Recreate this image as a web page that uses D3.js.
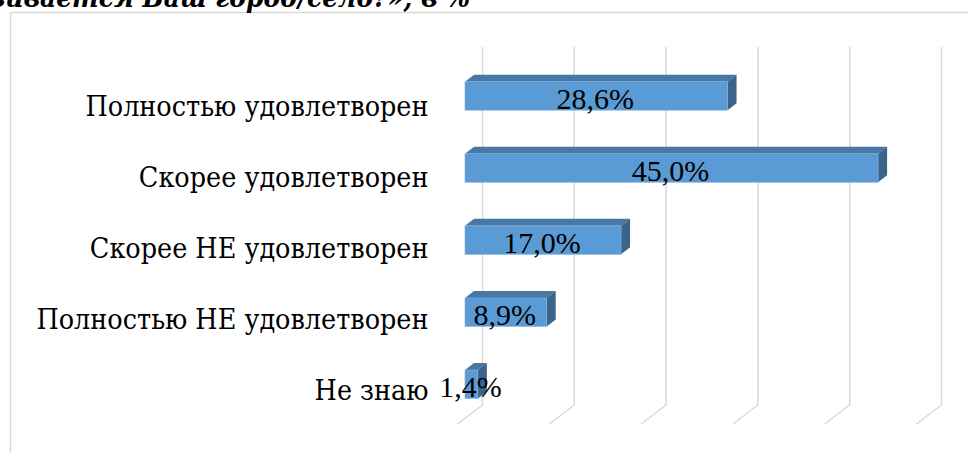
<!DOCTYPE html>
<html>
<head>
<meta charset="utf-8">
<script src="https://cdn.jsdelivr.net/npm/d3@7/dist/d3.min.js"></script>
<style>
  html, body { margin: 0; padding: 0; background: #fff; }
  svg { display: block; }
</style>
</head>
<body>
<svg id="chart" width="968" height="452"></svg>
<script>
const titleText = "«Насколько Вас удовлетворяет то, как развивается Ваш город/село?», в %";
const categories = ["Полностью удовлетворен", "Скорее удовлетворен", "Скорее НЕ удовлетворен", "Полностью НЕ удовлетворен", "Не знаю"];
const values = [28.6, 45.0, 17.0, 8.9, 1.4];
const valueLabels = ["28,6%", "45,0%", "17,0%", "8,9%", "1,4%"];
const gridTicks = [0, 10, 20, 30, 40, 50];

const svg = d3.select("#chart");
const serifCyr = "'DejaVu Serif Condensed', 'DejaVu Serif', serif";
const serifNum = "'Liberation Serif', 'Times New Roman', serif";

// frame
svg.append("rect")
  .attr("x", 10.5).attr("y", 12.5)
  .attr("width", 1000).attr("height", 500)
  .attr("fill", "none").attr("stroke", "#d9d9d9").attr("stroke-width", 1.5);

// scales
const x = d3.scaleLinear().domain([0, 50]).range([465, 924]);   // bar front plane
const backDx = 17.5;                                             // back wall offset
const depthDx = 25, depthDy = -19;                               // floor depth
const barDx = 9, barDy = -7;                                     // bar depth

const y = d3.scaleBand().domain(categories)
  .range([59.9, 420.3]).paddingInner(0.605).paddingOuter(0.3025);
const yLabel = d3.scalePoint().domain(categories).range([115.7, 400]);

const gridTop = 47, gridBottom = 405;

// gridlines (back wall + floor)
const grid = svg.append("g");
gridTicks.forEach(t => {
  const xb = x(t) + backDx;
  grid.append("path")
    .attr("d", `M${xb},${gridTop} L${xb},${gridBottom} L${xb - depthDx},${gridBottom - depthDy}`)
    .attr("fill", "none").attr("stroke", "#d9d9d9").attr("stroke-width", 1.5);
});

// bars
const bars = svg.append("g");
categories.forEach((c, i) => {
  const x0 = x(0), x1 = x(values[i]);
  const y0 = y(c), h = y.bandwidth();
  bars.append("path")
    .attr("d", `M${x0},${y0} L${x0 + barDx},${y0 + barDy} L${x1 + barDx},${y0 + barDy} L${x1},${y0} Z`)
    .attr("fill", "#4677a5");
  bars.append("path")
    .attr("d", `M${x1},${y0} L${x1 + barDx},${y0 + barDy} L${x1 + barDx},${y0 + h + barDy} L${x1},${y0 + h} Z`)
    .attr("fill", "#3a6489");
  bars.append("rect")
    .attr("x", x0).attr("y", y0)
    .attr("width", x1 - x0).attr("height", h)
    .attr("fill", "#5b9bd5")
    .attr("stroke", "#7fb0de").attr("stroke-width", 0.6);
  bars.append("text")
    .attr("x", (x0 + x1) / 2 - 1).attr("y", y0 + h - 1)
    .attr("text-anchor", "middle")
    .attr("font-family", serifNum).attr("font-size", 30)
    .attr("fill", "#000")
    .text(valueLabels[i]);
});

// category labels
const labels = svg.append("g").selectAll("text")
  .data(categories).join("text")
  .attr("x", 428.5).attr("y", d => yLabel(d))
  .attr("text-anchor", "end")
  .attr("font-family", serifCyr).attr("font-size", 27.5)
  .attr("fill", "#000")
  .text(d => d);

// scale widths so "Полностью удовлетворен" spans ~343px like the reference
const refW = labels.filter((d, i) => i === 0).node().getComputedTextLength();
const k = 343 / refW;
labels.each(function () {
  const w = this.getComputedTextLength();
  d3.select(this).attr("textLength", w * k).attr("lengthAdjust", "spacingAndGlyphs");
});

// title (cut off at top as in the reference)
const title = svg.append("text")
  .attr("x", 470).attr("y", 7)
  .attr("text-anchor", "end")
  .attr("font-family", serifCyr)
  .attr("font-weight", "bold").attr("font-style", "italic")
  .attr("font-size", 27)
  .attr("fill", "#000")
  .text(titleText);
const tw = title.node().getComputedTextLength();
title.attr("textLength", tw * k).attr("lengthAdjust", "spacingAndGlyphs");
</script>
</body>
</html>
